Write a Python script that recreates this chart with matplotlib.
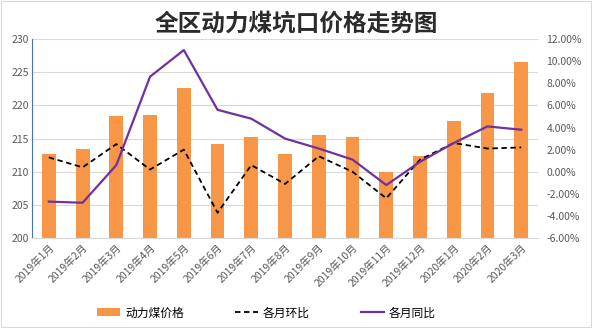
import numpy as np
import matplotlib
matplotlib.use("Agg")
import matplotlib.pyplot as plt
from matplotlib.ticker import FuncFormatter

plt.rcParams["font.family"] = ["Noto Sans CJK SC", "DejaVu Sans"]

# -----------------------------
# Data
# -----------------------------
months = ["2019年1月", "2019年2月", "2019年3月", "2019年4月", "2019年5月",
          "2019年6月", "2019年7月", "2019年8月", "2019年9月", "2019年10月",
          "2019年11月", "2019年12月", "2020年1月", "2020年2月", "2020年3月"]
price = [212.7, 213.5, 218.4, 218.6, 222.6, 214.2, 215.3, 212.7,
         215.6, 215.3, 209.9, 212.3, 217.7, 221.9, 226.5]
mom = [1.3, 0.4, 2.5, 0.2, 2.0, -3.7, 0.6, -1.1,
       1.4, 0.0, -2.4, 1.1, 2.6, 2.1, 2.2]          # 各月环比 (%)
yoy = [-2.7, -2.8, 0.6, 8.6, 11.0, 5.6, 4.8, 3.0,
       2.1, 1.1, -1.2, 0.9, 2.6, 4.1, 3.8]          # 各月同比 (%)

ORANGE = "#F79646"
PURPLE = "#7030A0"
GRAY_TXT = "#595959"

fig = plt.figure(figsize=(5.92, 3.28), dpi=100)
ax = fig.add_axes([0.054, 0.274, 0.855, 0.607])
ax2 = ax.twinx()

x = np.arange(len(months))
bars = ax.bar(x, price, width=0.41, color=ORANGE, label="动力煤价格", zorder=2)
ax.set_ylim(200, 230)
ax.set_yticks(np.arange(200, 231, 5))
ax.set_xlim(-0.5, len(months) - 0.5)
ax.grid(axis="y", color="#D9D9D9", linewidth=0.8, zorder=0)
ax.set_axisbelow(True)

l1, = ax2.plot(x, mom, color="black", linestyle=(0, (3, 2)), linewidth=1.3, label="各月环比")
l2, = ax2.plot(x, yoy, color=PURPLE, linewidth=1.6, label="各月同比")
ax2.set_ylim(-6, 12)
ax2.set_yticks(np.arange(-6, 12.1, 2))
ax2.yaxis.set_major_formatter(FuncFormatter(lambda v, p: f"{v:.2f}%"))

ax.set_xticks(x)
ax.set_xticklabels(months, rotation=45, ha="right", rotation_mode="anchor")

for a in (ax, ax2):
    a.tick_params(length=0, labelsize=7.5, labelcolor=GRAY_TXT)
    for s in ("top", "right"):
        a.spines[s].set_visible(False)
    a.spines["left"].set_visible(False)
ax.spines["left"].set_visible(True)
ax.spines["left"].set_color("#4472C4")
ax.spines["left"].set_linewidth(0.8)
ax.spines["bottom"].set_color("#D9D9D9")
ax2.spines["bottom"].set_visible(False)
ax.tick_params(axis="y", pad=2)
ax.tick_params(axis="x", pad=3)
ax2.tick_params(axis="y", pad=6)

fig.text(0.5, 0.927, "全区动力煤坑口价格走势图", ha="center", va="center",
         fontsize=17, fontweight="bold", color="#2B2B2B")

fig.legend([bars, l1, l2], ["动力煤价格", "各月环比", "各月同比"],
           loc="center", bbox_to_anchor=(0.45, 0.046), ncol=3, frameon=False,
           fontsize=8.5, handlelength=2.0, columnspacing=4.3, handletextpad=0.4)

border = plt.Rectangle((0.002, 0.003), 0.996, 0.994, transform=fig.transFigure,
                       fill=False, edgecolor="#D9D9D9", linewidth=0.8)
fig.patches.append(border)

fig.savefig("out.png", dpi=100)
